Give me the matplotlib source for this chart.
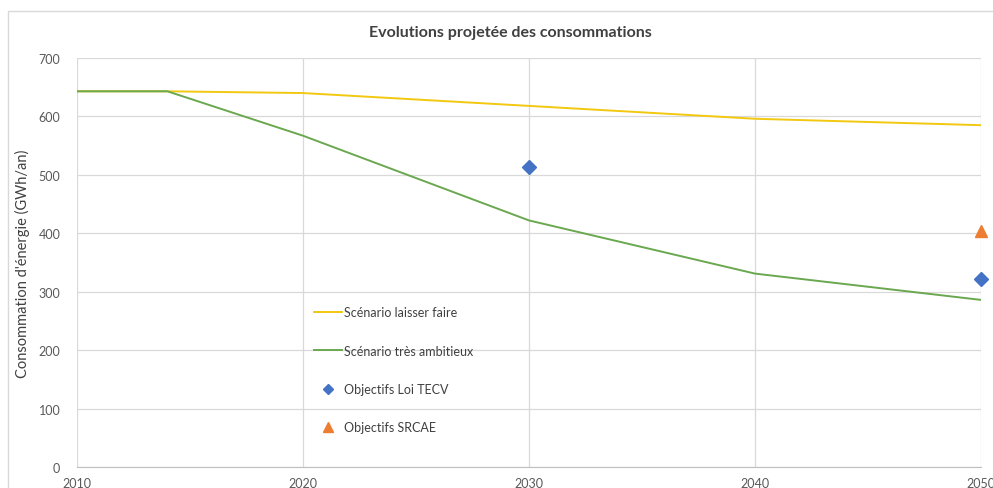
import matplotlib.pyplot as plt
from matplotlib.patches import Rectangle

plt.rcParams['font.family'] = ['Lato', 'DejaVu Sans']

years = [2010, 2014, 2020, 2030, 2040, 2050]
laisser_faire = [643, 643, 640, 618, 596, 585]
tres_ambitieux = [643, 643, 567, 422, 331, 286]

tecv_years = [2030, 2050]
tecv_values = [514, 321]
srcae_years = [2050]
srcae_values = [404]

xticks = [2010, 2020, 2030, 2040, 2050]
yticks = [0, 100, 200, 300, 400, 500, 600, 700]

fig = plt.figure(figsize=(9.93, 4.89), dpi=100)
fig.patches.append(Rectangle((8 / 993, -0.1), 1.0, 1.1 - 12 / 489, transform=fig.transFigure,
                             fill=False, edgecolor='#d9d9d9', linewidth=1))
ax = fig.add_axes([77 / 993, 21 / 489, 904 / 993, 409 / 489])

ax.plot(years, laisser_faire, color='#f2c811', linewidth=1.4, label='Scénario laisser faire')
ax.plot(years, tres_ambitieux, color='#6aa84f', linewidth=1.4, label='Scénario très ambitieux')
ax.plot(tecv_years, tecv_values, linestyle='none', marker='D', markersize=7,
        color='#4472c4', label='Objectifs Loi TECV', clip_on=False)
ax.plot(srcae_years, srcae_values, linestyle='none', marker='^', markersize=9,
        color='#ed7d31', label='Objectifs SRCAE', clip_on=False)

ax.set_xlim(2010, 2050)
ax.set_ylim(0, 700)
ax.set_xticks(xticks)
ax.set_yticks(yticks)
ax.grid(True, color='#d9d9d9', linewidth=0.9)
ax.set_axisbelow(True)
for s in ['left', 'top', 'right']:
    ax.spines[s].set_visible(False)
ax.spines['bottom'].set_color('#bfbfbf')
ax.tick_params(length=0, colors='#595959', labelsize=9)
ax.tick_params(axis='y', pad=12)
ax.tick_params(axis='x', pad=7)

ax.set_ylabel("Consommation d'énergie (GWh/an)", color='#404040', fontsize=10.5, labelpad=6)
fig.text(510 / 993, 1 - 33 / 489, 'Evolutions projetée des consommations', ha='center', va='center',
         fontsize=11.5, fontweight='bold', color='#404040')

leg = ax.legend(loc='upper left', bbox_to_anchor=(0.25, 0.42), frameon=False, fontsize=9,
                labelspacing=2.1, handlelength=2.2, handletextpad=0.15, markerscale=0.75,
                labelcolor='#404040')

fig.savefig('out.png', dpi=100)
